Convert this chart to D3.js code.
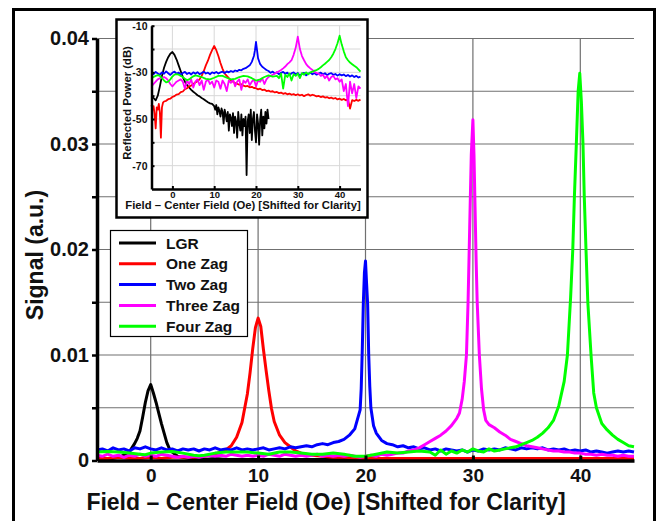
<!DOCTYPE html>
<html>
<head>
<meta charset="utf-8">
<script src="https://cdn.jsdelivr.net/npm/d3@7"></script>
<style>
  body { margin: 0; background: #fff; }
  text { font-family: "Liberation Sans", Arial, sans-serif; font-weight: bold; fill: #111; }
</style>
</head>
<body>
<div id="chart"></div>
<script>
// series names + colours (legend order = draw order)
const seriesNames = ["LGR", "One Zag", "Two Zag", "Three Zag", "Four Zag"];
const seriesColors = ["#000000", "#ff0000", "#0000ff", "#ff00ff", "#00ff00"];

// main chart ticks
const mainXTicks = [0, 10, 20, 30, 40];
const mainYTicks = [0, 0.01, 0.02, 0.03, 0.04];
const mainYMinor = [0.005, 0.015, 0.025, 0.035];
// inset ticks
const insetXTicks = [0, 10, 20, 30, 40];
const insetYTicks = [-10, -30, -50, -70];
const insetYMinor = [-20, -40, -60];
const insetYGrid = [-10, -20, -30, -40, -50, -60, -70];

// main chart: signal (a.u.) vs shifted field (Oe), [x, y]
const lgrMain = [[-5,0.0001],[-4.5,0.0001],[-4,0.0002],[-3.5,0.0002],[-3,0.0003],[-2.5,0.0005],[-2,0.0008],
  [-1.75,0.0012],[-1.5,0.0016],[-1.25,0.0021],[-1,0.0028],[-0.75,0.0041],[-0.5,0.0055],[-0.25,0.0066],[0,0.0072],
  [0.25,0.0064],[0.5,0.0055],[0.75,0.0045],[1,0.0035],[1.25,0.0026],[1.5,0.0017],[1.75,0.0011],[2,0.0008],
  [2.5,0.0004],[3,0.0003],[3.5,0.0002],[4,0.0002],[5,0.0001],[6,0.0002],[7,0.0001],[8,0.0001],[9,0.0001],
  [10,0.0001],[11,0.0001],[12,0.0001],[13,0.0001],[14,0.0001],[15,0.0001],[16,0.0001],[17,0.0001],[18,0.0001],
  [19,0.0001],[20,0.0001],[21,0.0001],[22,0.0001],[23,0.0001]];

const oneZagMain = [[-5,0.0002],[-4,0.0002],[-3,0.0003],[-2,0.0002],[-1,0.0002],[0,0.0003],[1,0.0002],[2,0.0003],
  [3,0.0003],[4,0.0003],[5,0.0004],[6,0.0006],[6.5,0.0008],[7,0.001],[7.5,0.0014],[8,0.0022],[8.5,0.0036],
  [9,0.0063],[9.25,0.0083],[9.5,0.0106],[9.75,0.0126],[10,0.0135],[10.25,0.0127],[10.5,0.0105],[10.75,0.0085],
  [11,0.0066],[11.25,0.0049],[11.5,0.0037],[12,0.0024],[12.5,0.0017],[13,0.0013],[13.5,0.0009],[14,0.0007],
  [15,0.0005],[16,0.0004],[17,0.0003],[18,0.0003],[20,0.0002],[22,0.0002],[25,0.0002],[28,0.0002],[31,0.0002],
  [34,0.0002],[37,0.0002],[40,0.0002],[43,0.0002],[45,0.0002]];

const twoZagMain = [[-5,0.0010],[-4.5,0.0011],[-4,0.0009],[-3.5,0.0012],[-3,0.0010],[-2.5,0.0011],[-2,0.0009],
  [-1.5,0.0012],[-1,0.0011],[-0.5,0.0013],[0,0.0011],[0.5,0.0010],[1,0.0012],[1.5,0.0010],[2,0.0011],[2.5,0.0009],
  [3,0.0011],[3.5,0.0010],[4,0.0011],[4.5,0.0009],[5,0.0011],[5.5,0.0010],[6,0.0012],[6.5,0.0010],[7,0.0011],
  [7.5,0.0010],[8,0.0012],[8.5,0.0010],[9,0.0011],[9.5,0.0010],[10,0.0011],[10.5,0.0012],[11,0.0010],[11.5,0.0011],
  [12,0.0012],[12.5,0.0011],[13,0.0013],[13.5,0.0012],[14,0.0013],[14.5,0.0014],[15,0.0013],[15.5,0.0015],
  [16,0.0016],[16.5,0.0015],[17,0.0017],[17.5,0.0018],[18,0.0020],[18.5,0.0024],[18.75,0.0027],[19,0.0030],
  [19.25,0.0039],[19.5,0.0048],[19.6,0.0068],[19.7,0.0105],[19.8,0.0150],[19.9,0.0178],[20,0.0189],[20.1,0.0168],
  [20.2,0.0148],[20.3,0.0100],[20.4,0.0070],[20.5,0.0050],[20.75,0.0033],[21,0.0026],[21.5,0.0019],[22,0.0016],
  [22.5,0.0015],[23,0.0013],[23.5,0.0014],[24,0.0012],[24.5,0.0013],[25,0.0011],[25.5,0.0012],[26,0.0010],
  [26.5,0.0011],[27,0.0009],[27.5,0.0011],[28,0.0010],[28.5,0.0009],[29,0.0010],[29.5,0.0008],[30,0.0010],
  [30.5,0.0009],[31,0.0011],[31.5,0.0010],[32,0.0011],[32.5,0.0010],[33,0.0012],[33.5,0.0011],[34,0.0010],
  [34.5,0.0012],[35,0.0011],[35.5,0.0012],[36,0.0011],[36.5,0.0012],[37,0.0010],[37.5,0.0011],[38,0.0010],
  [38.5,0.0011],[39,0.0009],[39.5,0.0010],[40,0.0009],[40.5,0.0010],[41,0.0008],[41.5,0.0009],[42,0.0008],
  [42.5,0.0007],[43,0.0008],[43.5,0.0009],[44,0.0008],[44.5,0.0009],[45,0.0008]];

const threeZagMain = [[-5,0.0005],[-4.5,0.0004],[-4,0.0006],[-3.5,0.0004],[-3,0.0005],[-2.5,0.0003],[-2,0.0005],
  [-1.5,0.0004],[-1,0.0006],[-0.5,0.0004],[0,0.0005],[0.5,0.0004],[1,0.0006],[1.5,0.0005],[2,0.0004],[2.5,0.0003],
  [3,0.0004],[3.5,0.0003],[4,0.0004],[4.5,0.0003],[5,0.0004],[5.5,0.0005],[6,0.0004],[6.5,0.0005],[7,0.0004],
  [7.5,0.0006],[8,0.0005],[8.5,0.0004],[9,0.0005],[9.5,0.0004],[10,0.0005],[10.5,0.0004],[11,0.0006],[11.5,0.0005],
  [12,0.0004],[12.5,0.0006],[13,0.0005],[13.5,0.0004],[14,0.0005],[14.5,0.0004],[15,0.0005],[15.5,0.0006],
  [16,0.0004],[16.5,0.0005],[17,0.0004],[17.5,0.0005],[18,0.0004],[18.5,0.0005],[19,0.0004],[19.5,0.0003],
  [20,0.0004],[20.5,0.0005],[21,0.0004],[21.5,0.0006],[22,0.0005],[22.5,0.0006],[23,0.0007],[23.5,0.0007],
  [24,0.0009],[24.5,0.0010],[25,0.0012],[25.5,0.0015],[26,0.0018],[26.5,0.0021],[27,0.0024],[27.5,0.0028],
  [28,0.0033],[28.5,0.0040],[28.75,0.0045],[29,0.0058],[29.2,0.0075],[29.4,0.0100],[29.55,0.0150],[29.7,0.0220],
  [29.85,0.0290],[30,0.0323],[30.1,0.0290],[30.2,0.0240],[30.3,0.0190],[30.4,0.0150],[30.6,0.0100],[30.8,0.0068],
  [31,0.0048],[31.2,0.0038],[31.5,0.0034],[32,0.0031],[32.5,0.0027],[33,0.0024],[33.5,0.0020],[34,0.0018],
  [34.5,0.0016],[35,0.0014],[35.5,0.0013],[36,0.0012],[36.5,0.0011],[37,0.0010],[37.5,0.0009],[38,0.0009],
  [38.5,0.0008],[39,0.0008],[39.5,0.0007],[40,0.0007],[40.5,0.0006],[41,0.0006],[41.5,0.0005],[42,0.0006],
  [42.5,0.0005],[43,0.0005],[43.5,0.0004],[44,0.0005],[44.5,0.0004],[45,0.0004]];

const fourZagMain = [[-5,0.0008],[-4,0.00085],[-3,0.0008],[-2,0.0007],[-1,0.0006],[-0.5,0.00055],[0,0.0007],
  [1,0.0008],[2,0.00085],[3,0.0007],[4,0.0005],[4.5,0.00045],[5,0.0005],[6,0.0007],[7,0.0008],[8,0.0008],
  [9,0.0008],[10,0.0007],[11,0.0006],[12,0.0008],[13,0.0008],[14,0.0007],[15,0.0006],[16,0.0006],[17,0.0007],
  [18,0.0006],[19,0.0004],[20,0.0004],[21,0.0006],[22,0.0008],[23,0.0007],[24,0.0008],[25,0.0009],[26,0.0008],
  [26.5,0.0005],[27,0.0010],[27.5,0.0006],[28,0.0009],[28.5,0.0007],[29,0.0010],[29.5,0.0008],[30,0.0011],
  [30.5,0.0009],[31,0.0008],[31.5,0.0011],[32,0.0009],[32.5,0.0010],[33,0.0011],[33.5,0.0012],[34,0.0013],
  [34.5,0.0015],[35,0.0017],[35.5,0.0019],[36,0.0022],[36.5,0.0026],[37,0.0031],[37.5,0.0038],[38,0.0052],
  [38.5,0.0075],[38.8,0.0100],[39.1,0.0155],[39.3,0.0200],[39.45,0.0250],[39.63,0.0300],[39.8,0.0350],
  [39.95,0.0367],[40.1,0.0340],[40.25,0.0300],[40.37,0.0250],[40.53,0.0200],[40.7,0.0150],[41,0.0100],
  [41.25,0.0064],[41.5,0.0050],[42,0.0035],[42.5,0.0029],[43,0.0024],[43.5,0.0020],[44,0.0017],[44.5,0.0014],
  [45,0.0013]];

// inset: reflected power (dB) vs shifted field (Oe)
const lgrInset = [[-5,-40.5],[-4.5,-41],[-4,-42],[-3.5,-40],[-3,-36],[-2.5,-31.5],[-2,-28],[-1.5,-25.5],[-1,-23.5],
  [-0.5,-22],[0,-21.3],[0.5,-22.5],[1,-24.5],[1.5,-27],[2,-29.5],[2.5,-32],[3,-34],[3.5,-35.5],[4,-36.5],
  [4.5,-37.5],[5,-38.3],[5.5,-39],[6,-39.8],[6.5,-40.3],[7,-41],[7.5,-41.5],[8,-42.2],[8.5,-42.8],[9,-43.3],
  [9.5,-43.5],[10,-44.5],[10.25,-46],[10.5,-44],[10.75,-48],[11,-45],[11.25,-46.5],[11.5,-49],[11.75,-45.5],
  [12,-47],[12.25,-52],[12.5,-46],[12.75,-48],[13,-51],[13.25,-47],[13.5,-55],[13.75,-48],[14,-49.5],[14.25,-53],
  [14.5,-47.5],[14.75,-56],[15,-49],[15.25,-51],[15.5,-58],[15.75,-47],[16,-52],[16.25,-55],[16.5,-48],[16.75,-57],
  [17,-50],[17.25,-53],[17.5,-49],[17.75,-74],[18,-51],[18.25,-48],[18.5,-56],[18.75,-46],[19,-59],[19.25,-50],
  [19.5,-47],[19.75,-55],[20,-60],[20.25,-48],[20.5,-52],[20.75,-61],[21,-50],[21.25,-46],[21.5,-57],[21.75,-49],
  [22,-54],[22.25,-47],[22.5,-52],[22.75,-46],[23,-50]];

const oneZagInset = [[-5,-44],[-4.75,-46],[-4.5,-44.5],[-4.25,-48],[-4,-54],[-3.75,-45],[-3.5,-46],[-3.25,-43.5],
  [-3,-47],[-2.75,-58],[-2.5,-45],[-2.25,-43],[-2,-42.5],[-1.5,-42.2],[-1,-41.5],[-0.5,-41.3],[0,-40.5],[0.5,-40.2],
  [1,-39.5],[1.5,-39.3],[2,-38.5],[2.5,-38.2],[3,-37.2],[3.5,-36.8],[4,-36],[4.5,-35.7],[5,-35],[5.5,-34.3],
  [6,-33.8],[6.5,-33],[7,-31.5],[7.5,-29.5],[8,-27],[8.5,-25],[9,-22.5],[9.5,-20.5],[10,-18.7],[10.5,-20.5],
  [11,-23],[11.5,-26],[12,-28.5],[12.5,-30.5],[13,-31.5],[13.5,-32.5],[14,-33.5],[14.5,-34],[15,-34.6],
  [15.5,-34.9],[16,-35.3],[16.5,-35.1],[17,-35.7],[17.5,-36],[18,-35.8],[18.5,-36.4],[19,-36.2],[19.5,-36.7],
  [20,-36.8],[20.5,-37.3],[21,-37],[21.5,-37.6],[22,-37.4],[22.5,-38],[23,-37.8],[23.5,-38.3],[24,-38.1],
  [24.5,-38.6],[25,-38.4],[25.5,-38.9],[26,-38.7],[26.5,-39.2],[27,-38.9],[27.5,-39.4],[28,-39.1],[28.5,-39.6],
  [29,-39.3],[29.5,-39.8],[30,-39.4],[30.5,-39.9],[31,-39.6],[31.5,-40.2],[32,-39.7],[32.5,-39.4],[33,-40],
  [33.5,-39.6],[34,-39.9],[34.5,-40.3],[35,-40.1],[35.5,-40.6],[36,-40.3],[36.5,-40.8],[37,-40.6],[37.5,-41.1],
  [38,-40.8],[38.5,-41.3],[39,-41],[39.5,-41.6],[40,-41.3],[40.5,-41.8],[41,-41.4],[41.5,-42],[42,-41.6],
  [42.5,-45.5],[43,-41.9],[43.5,-42.3],[44,-41.8],[44.5,-42.2],[45,-41.7]];

const twoZagInset = [[-5,-30.2],[-4.5,-30.8],[-4,-29.8],[-3.5,-30.5],[-3,-31],[-2.5,-30],[-2,-30.6],[-1.5,-29.6],
  [-1,-30.4],[-0.5,-31.1],[0,-30.2],[0.5,-29.7],[1,-30.6],[1.5,-30.1],[2,-31],[2.5,-30.3],[3,-29.8],[3.5,-30.7],
  [4,-30.2],[4.5,-30.9],[5,-30],[5.5,-30.6],[6,-29.9],[6.5,-30.8],[7,-30.3],[7.5,-29.7],[8,-30.5],[8.5,-30.1],
  [9,-30.8],[9.5,-30],[10,-30.4],[10.5,-29.8],[11,-30.5],[11.5,-30],[12,-29.7],[12.5,-30.3],[13,-29.6],[13.5,-30],
  [14,-29.4],[14.5,-29.8],[15,-29.2],[15.5,-29.5],[16,-28.9],[16.5,-29.1],[17,-28.5],[17.5,-28.2],[18,-27.6],
  [18.5,-27],[19,-25.5],[19.5,-23],[19.75,-20.5],[20,-16.9],[20.25,-20.5],[20.5,-24],[21,-26.5],[21.5,-27.6],
  [22,-28.3],[22.5,-29],[23,-29.4],[23.5,-30.2],[24,-29.7],[24.5,-30.5],[25,-30],[25.5,-30.8],[26,-30.2],
  [26.5,-29.8],[27,-30.6],[27.5,-30.1],[28,-31.2],[28.5,-30.4],[29,-30],[29.5,-30.9],[30,-30.3],[30.5,-31.5],
  [31,-30.5],[31.5,-30.2],[32,-31.3],[32.5,-30.6],[33,-30.1],[33.5,-30.8],[34,-30.3],[34.5,-31],[35,-30.5],
  [35.5,-30.1],[36,-30.9],[36.5,-30.4],[37,-31.2],[37.5,-30.6],[38,-30.3],[38.5,-31.1],[39,-30.7],[39.5,-31.4],
  [40,-30.8],[40.5,-31.3],[41,-30.9],[41.5,-31.6],[42,-31.1],[42.5,-31.8],[43,-31.3],[43.5,-32],[44,-31.5],
  [44.5,-32.2],[45,-31.8]];

const threeZagInset = [[-5,-36],[-4.5,-35],[-4,-34],[-3.5,-33],[-3,-32.5],[-2.5,-32.5],[-2,-32],[-1.5,-32.5],
  [-1,-33.5],[-0.5,-35],[0,-36],[0.5,-35],[1,-34],[1.5,-33.5],[2,-33],[2.5,-34],[3,-37],[3.5,-33.5],[4,-35],
  [4.5,-33],[5,-36.5],[5.5,-34],[6,-33],[6.5,-35.5],[7,-33.5],[7.5,-37.5],[8,-34],[8.5,-33],[9,-35],[9.5,-34],
  [10,-36.5],[10.5,-33.5],[11,-34],[11.5,-37],[12,-33.5],[12.5,-35],[13,-38],[13.5,-33.5],[14,-34.5],[14.5,-33],
  [15,-36],[15.5,-34],[16,-33],[16.5,-37.5],[17,-33.5],[17.5,-34.5],[18,-33],[18.5,-35.5],[19,-34],[19.5,-33],
  [20,-36],[20.5,-33.5],[21,-34],[21.5,-32.5],[22,-35],[22.5,-33],[23,-32],[23.5,-31.5],[24,-31],[24.5,-30.5],
  [25,-30],[25.5,-29.5],[26,-29],[26.5,-28.3],[27,-27.5],[27.5,-26.5],[28,-25.7],[28.5,-24.8],[29,-22.5],
  [29.5,-19.5],[30,-14.7],[30.5,-20],[31,-23],[31.5,-24.8],[32,-26.5],[32.5,-27.5],[33,-28.3],[33.5,-29],
  [34,-29.8],[34.5,-30.3],[35,-30.5],[35.5,-31.5],[36,-31],[36.5,-32.5],[37,-31.5],[37.5,-33.5],[38,-32],
  [38.5,-31.5],[39,-33],[39.5,-32.5],[40,-34],[40.5,-33],[41,-38],[41.5,-35],[42,-44.5],[42.5,-34],[43,-39],
  [43.5,-35],[44,-41],[44.5,-36],[45,-37]];

const fourZagInset = [[-5,-32.5],[-4.5,-32],[-4,-31.5],[-3.5,-31.2],[-3,-31.5],[-2.5,-32.5],[-2,-33.5],
  [-1.5,-34.3],[-1,-34],[-0.5,-33],[0,-31.8],[0.5,-31],[1,-30.8],[1.5,-31],[2,-31.5],[2.5,-32],[3,-32.8],
  [3.5,-33.3],[4,-33],[4.5,-32.3],[5,-31.7],[5.5,-31.3],[6,-31.5],[7,-32],[8,-32.8],[9,-33],[10,-32.3],[11,-31.5],
  [12,-31.5],[13,-32.3],[14,-33],[15,-32.8],[16,-32],[17,-31.5],[18,-31.7],[19,-32.5],[20,-33.5],[21,-33],
  [22,-32],[23,-31.3],[24,-31.8],[25,-31.5],[25.5,-32.5],[26,-30.5],[26.5,-37],[27,-31],[27.5,-32],[28,-30.5],
  [28.5,-33.5],[29,-30.8],[29.5,-31.5],[30,-30.5],[30.5,-32.5],[31,-30.3],[31.5,-31],[32,-30],[32.5,-30.8],
  [33,-30],[33.5,-29.7],[34,-29.3],[34.5,-29],[35,-28.5],[35.5,-27.8],[36,-27],[36.5,-26.3],[37,-25.5],
  [37.5,-24.7],[38,-23.5],[38.5,-22],[39,-20],[39.5,-17.5],[40,-14.3],[40.5,-18],[41,-21],[41.5,-23.5],
  [42,-24.8],[42.5,-25.8],[43,-26.5],[43.5,-27.2],[44,-27.8],[44.5,-28.7],[45,-29.7]];

const mainSeries = [lgrMain, oneZagMain, twoZagMain, threeZagMain, fourZagMain];
const insetSeries = [lgrInset, oneZagInset, twoZagInset, threeZagInset, fourZagInset];

function drawChart(id) {
  const w = 660;
  const h = 521;

  const svg = d3
    .select(`#${id}`)
    .append("svg")
    .attr("width", w)
    .attr("height", h);

  // outer frame
  svg.append("rect")
    .attr("x", 13.5).attr("y", 9.5)
    .attr("width", 641).attr("height", 530)
    .attr("fill", "none").attr("stroke", "#000").attr("stroke-width", 3);

  // main scales
  const x = d3.scaleLinear().domain([-5, 45]).range([97, 634]);
  const y = d3.scaleLinear().domain([0, 0.04]).range([460.5, 38.5]);

  // grid lines
  const grid = svg.append("g").attr("stroke", "#707070").attr("stroke-width", 1.2);
  grid.selectAll(".hg")
    .data(mainYTicks.concat(mainYMinor))
    .enter().append("line")
    .attr("x1", x(-5)).attr("x2", x(45))
    .attr("y1", (d) => y(d)).attr("y2", (d) => y(d));
  grid.selectAll(".vg")
    .data(mainXTicks)
    .enter().append("line")
    .attr("x1", (d) => x(d)).attr("x2", (d) => x(d))
    .attr("y1", y(0)).attr("y2", y(0.04));

  // data lines
  const line = d3.line().x((d) => x(d[0])).y((d) => y(d[1]));
  svg.append("g")
    .selectAll("path")
    .data(mainSeries)
    .enter().append("path")
    .attr("d", line)
    .attr("fill", "none")
    .attr("stroke", (d, i) => seriesColors[i])
    .attr("stroke-width", 3)
    .attr("stroke-linejoin", "round");

  // y axis (major + minor ticks)
  const yAx = svg.append("g")
    .attr("transform", `translate(${x(-5)},0)`)
    .call(d3.axisLeft(y).tickValues(mainYTicks)
      .tickFormat((d) => (d === 0 ? "0" : d.toFixed(2)))
      .tickSize(5).tickSizeOuter(0).tickPadding(3));
  svg.append("g")
    .attr("transform", `translate(${x(-5)},0)`)
    .call(d3.axisLeft(y).tickValues(mainYMinor).tickFormat("").tickSize(5))
    .call((g) => g.select(".domain").remove())
    .selectAll("line").attr("stroke", "#000").attr("stroke-width", 2.5);
  yAx.select(".domain").attr("stroke", "#000").attr("stroke-width", 3.5);
  yAx.selectAll("line").attr("stroke", "#000").attr("stroke-width", 2.5);
  yAx.selectAll("text").style("font-size", "20px");

  // x axis
  const xAx = svg.append("g")
    .attr("transform", `translate(0,${y(0)})`)
    .call(d3.axisBottom(x).tickValues(mainXTicks)
      .tickSize(-5).tickSizeOuter(0).tickPadding(8));
  xAx.select(".domain").attr("stroke", "#000").attr("stroke-width", 3.5);
  xAx.selectAll("line").attr("stroke", "#000").attr("stroke-width", 3);
  xAx.selectAll("text").style("font-size", "19px");

  // axis titles
  svg.append("text")
    .attr("x", 326).attr("y", 510)
    .attr("text-anchor", "middle")
    .style("font-size", "23px")
    .text("Field \u2013 Center Field (Oe) [Shifted for Clarity]");
  svg.append("text")
    .attr("transform", "translate(43,255) rotate(-90)")
    .attr("text-anchor", "middle")
    .style("font-size", "23px")
    .text("Signal (a.u.)");

  // legend box
  const legend = svg.append("g");
  legend.append("rect")
    .attr("x", 110.5).attr("y", 230.5)
    .attr("width", 137).attr("height", 106)
    .attr("fill", "#fff").attr("stroke", "#000").attr("stroke-width", 1.2);
  const items = legend.selectAll(".legendItem")
    .data(seriesNames)
    .enter().append("g")
    .attr("class", "legendItem")
    .attr("transform", (d, i) => `translate(0,${243 + i * 20.8})`);
  items.append("line")
    .attr("x1", 119).attr("x2", 156)
    .attr("stroke", (d, i) => seriesColors[i])
    .attr("stroke-width", 3);
  items.append("text")
    .attr("x", 166).attr("dy", "0.36em")
    .style("font-size", "15.5px")
    .text((d) => d);

  drawInset(svg);
}

// inset plot of the reflected power
function drawInset(svg) {
  const g = svg.append("g");
  g.append("rect")
    .attr("x", 116.5).attr("y", 19.5)
    .attr("width", 251).attr("height", 198)
    .attr("fill", "#fff").attr("stroke", "#000").attr("stroke-width", 2.5);

  const x = d3.scaleLinear().domain([-5, 45]).range([151.5, 360.5]);
  const y = d3.scaleLinear().domain([-80, -10]).range([189, 25.7]);

  const grid = g.append("g").attr("stroke", "#d8d8d8").attr("stroke-width", 1);
  grid.selectAll(".hg")
    .data(insetYGrid)
    .enter().append("line")
    .attr("x1", x(-5)).attr("x2", x(45))
    .attr("y1", (d) => y(d)).attr("y2", (d) => y(d));
  grid.selectAll(".vg")
    .data(insetXTicks)
    .enter().append("line")
    .attr("x1", (d) => x(d)).attr("x2", (d) => x(d))
    .attr("y1", y(-80)).attr("y2", y(-10));

  const line = d3.line().x((d) => x(d[0])).y((d) => y(d[1]));
  g.append("g")
    .selectAll("path")
    .data(insetSeries)
    .enter().append("path")
    .attr("d", line)
    .attr("fill", "none")
    .attr("stroke", (d, i) => seriesColors[i])
    .attr("stroke-width", 1.8)
    .attr("stroke-linejoin", "round");

  const yAx = g.append("g")
    .attr("transform", `translate(${x(-5)},0)`)
    .call(d3.axisLeft(y).tickValues(insetYTicks).tickFormat((d) => String(d))
      .tickSize(-3).tickSizeOuter(0).tickPadding(4));
  g.append("g")
    .attr("transform", `translate(${x(-5)},0)`)
    .call(d3.axisLeft(y).tickValues(insetYMinor).tickFormat("").tickSize(-3))
    .call((a) => a.select(".domain").remove())
    .selectAll("line").attr("stroke", "#000").attr("stroke-width", 2);
  yAx.select(".domain").attr("stroke", "#000").attr("stroke-width", 2.5);
  yAx.selectAll("line").attr("stroke", "#000").attr("stroke-width", 2);
  yAx.selectAll("text").style("font-size", "10.5px");

  const xAx = g.append("g")
    .attr("transform", `translate(0,${y(-80)})`)
    .call(d3.axisBottom(x).tickValues(insetXTicks).tickSize(-3).tickSizeOuter(0).tickPadding(2));
  xAx.select(".domain").attr("stroke", "#000").attr("stroke-width", 2.5);
  xAx.selectAll("line").attr("stroke", "#000").attr("stroke-width", 2);
  xAx.selectAll("text").style("font-size", "9.5px");

  g.append("text")
    .attr("x", 243).attr("y", 209)
    .attr("text-anchor", "middle")
    .style("font-size", "11.3px")
    .text("Field \u2013 Center Field (Oe) [Shifted for Clarity]");
  g.append("text")
    .attr("transform", "translate(131,103) rotate(-90)")
    .attr("text-anchor", "middle")
    .style("font-size", "11.3px")
    .text("Reflected Power (dB)");
}

document.addEventListener("DOMContentLoaded", function () {
  drawChart("chart");
});
</script>
</body>
</html>
